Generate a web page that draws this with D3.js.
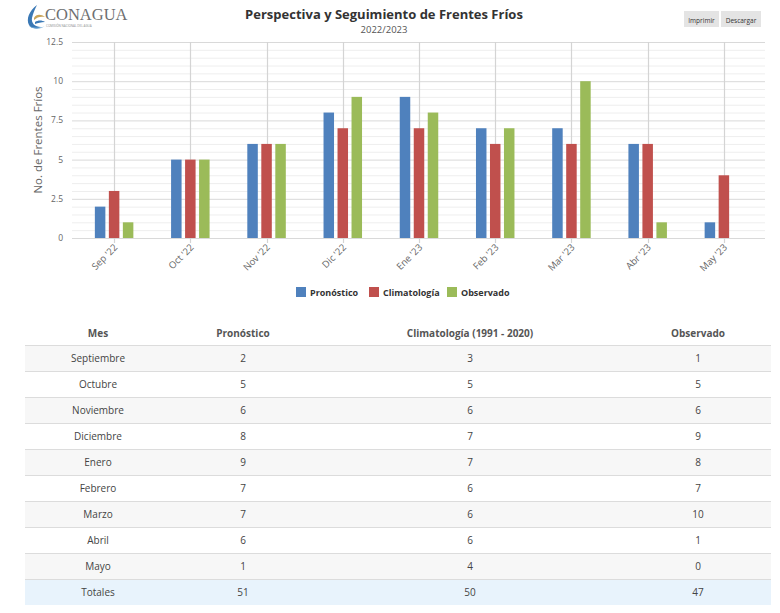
<!DOCTYPE html>
<html>
<head>
<meta charset="utf-8">
<script src="https://cdn.jsdelivr.net/npm/d3@7"></script>
<style>
  body { margin: 0; background: #fff; font-family: "Open Sans", sans-serif; }
  text { font-family: "Open Sans", sans-serif; }
</style>
</head>
<body>
<div id="chart"></div>
<script>
const width = 780
const height = 613
const margins = ({ top: 42, right: 15, bottom: 375, left: 72 })

// data
const months = ["Sep '22", "Oct '22", "Nov '22", "Dic '22", "Ene '23", "Feb '23", "Mar '23", "Abr '23", "May '23"]
const monthNames = ["Septiembre", "Octubre", "Noviembre", "Diciembre", "Enero", "Febrero", "Marzo", "Abril", "Mayo"]
const pronostico = [2, 5, 6, 8, 9, 7, 7, 6, 1]
const climatologia = [3, 5, 6, 7, 7, 6, 6, 6, 4]
const observado = [1, 5, 6, 9, 8, 7, 10, 1, 0]
const seriesNames = ["Pronóstico", "Climatología", "Observado"]
const tableHeaders = ["Mes", "Pronóstico", "Climatología (1991 - 2020)", "Observado"]
const yTicks = [0, 2.5, 5, 7.5, 10, 12.5]
const colors = ["#4f81bd", "#c0504d", "#9bbb59"]

const series = [pronostico, climatologia, observado]

const svg = d3.select("#chart")
    .append("svg")
    .attr("width", width)
    .attr("height", height)

// logo
const logo = svg.append("g").attr("transform", "translate(25,4)")
logo.append("path")
    .attr("d", "M12,1 C4,7 1,15 4,21 C6,25 12,25 16,23 C10,23 6,19 7,14 C8,9 10,5 12,1 Z")
    .attr("fill", "#3a78b5")
logo.append("path")
    .attr("d", "M4,22 C9,26 16,25 20,22 C16,24 10,24 4,22 Z")
    .attr("fill", "#6aa6d6")
logo.append("path")
    .attr("d", "M9,14 C11,10 16,10 20,13 C16,12 12,13 9,16 Z")
    .attr("fill", "#c9a45a")
logo.append("path")
    .attr("d", "M10,18 C13,16 17,16 20,18 C16,18 13,19 10,20 Z")
    .attr("fill", "#3a78b5")
svg.append("text")
    .text("CONAGUA")
    .attr("x", 45)
    .attr("y", 20)
    .style("font-family", "'Liberation Serif', serif")
    .attr("font-size", 16.5)
    .attr("fill", "#6e6f71")
svg.append("text")
    .text("COMISIÓN NACIONAL DEL AGUA")
    .attr("x", 46)
    .attr("y", 27)
    .attr("font-size", 3)
    .attr("fill", "#8a8b8d")

// title
svg.append("text")
    .text("Perspectiva y Seguimiento de Frentes Fríos")
    .attr("x", 384)
    .attr("y", 19)
    .attr("text-anchor", "middle")
    .attr("font-size", 13)
    .attr("font-weight", "bold")
    .attr("fill", "#333")
svg.append("text")
    .text("2022/2023")
    .attr("x", 384)
    .attr("y", 33)
    .attr("text-anchor", "middle")
    .attr("font-size", 9.5)
    .attr("fill", "#555")

// buttons
const buttons = [{ label: "Imprimir", x: 684, w: 35 }, { label: "Descargar", x: 721, w: 40 }]
buttons.forEach(b => {
    svg.append("rect")
        .attr("x", b.x).attr("y", 11).attr("width", b.w).attr("height", 16)
        .attr("fill", "#e4e4e4")
    svg.append("text")
        .text(b.label)
        .attr("x", b.x + b.w / 2).attr("y", 22.5)
        .attr("text-anchor", "middle")
        .attr("font-size", 6.5)
        .attr("fill", "#333")
})

// scales
const plotBottom = 238
const plotRight = width - margins.right
const x = d3.scaleBand()
    .domain(months)
    .range([76, 762])
const y = d3.scaleLinear()
    .domain([0, 12.5])
    .range([plotBottom, margins.top])

// minor gridlines
svg.append("g")
    .selectAll("line")
    .data(d3.range(0, 12.5, 0.5).filter(v => !yTicks.includes(v)))
    .join("line")
    .attr("x1", margins.left)
    .attr("x2", plotRight)
    .attr("y1", d => y(d) + 0.5)
    .attr("y2", d => y(d) + 0.5)
    .attr("stroke", "#eeeeee")

// major gridlines
svg.append("g")
    .selectAll("line")
    .data(yTicks)
    .join("line")
    .attr("x1", margins.left)
    .attr("x2", plotRight)
    .attr("y1", d => y(d) + 0.5)
    .attr("y2", d => y(d) + 0.5)
    .attr("stroke", "#d9d9d9")

// vertical gridlines
svg.append("g")
    .selectAll("line")
    .data(months)
    .join("line")
    .attr("x1", d => Math.round(x(d) + x.bandwidth() / 2) + 0.5)
    .attr("x2", d => Math.round(x(d) + x.bandwidth() / 2) + 0.5)
    .attr("y1", margins.top)
    .attr("y2", plotBottom + 5)
    .attr("stroke", "#d4d4d4")
    .attr("stroke-width", 1.2)

// y axis labels
svg.append("g")
    .selectAll("text")
    .data(yTicks)
    .join("text")
    .text(d => d)
    .attr("x", 63)
    .attr("y", d => y(d) + 3)
    .attr("text-anchor", "end")
    .attr("font-size", 8.5)
    .attr("fill", "#666")

svg.append("text")
    .text("No. de Frentes Fríos")
    .attr("transform", "rotate(-90)")
    .attr("x", -140)
    .attr("y", 42)
    .attr("text-anchor", "middle")
    .attr("font-size", 11.5)
    .attr("fill", "#666")

// bars
const barStep = 14
const barWidth = 10.5
series.forEach((values, i) => {
    svg.append("g")
        .selectAll("rect")
        .data(values)
        .join("rect")
        .attr("x", (d, j) => x(months[j]) + x.bandwidth() / 2 + (i - 1) * barStep - barWidth / 2)
        .attr("y", d => y(d))
        .attr("width", barWidth)
        .attr("height", d => plotBottom - y(d))
        .attr("fill", colors[i])
})

// x labels
svg.append("g")
    .selectAll("text")
    .data(months)
    .join("text")
    .text(d => d)
    .attr("transform", d => `translate(${x(d) + x.bandwidth() / 2 + 4},${plotBottom + 10}) rotate(-45)`)
    .attr("text-anchor", "end")
    .attr("font-size", 9.5)
    .attr("fill", "#666")

// legend
const legendX = [296, 369, 447]
seriesNames.forEach((name, i) => {
    svg.append("rect")
        .attr("x", legendX[i])
        .attr("y", 287)
        .attr("width", 10)
        .attr("height", 10)
        .attr("fill", colors[i])
    svg.append("text")
        .text(name)
        .attr("x", legendX[i] + 14)
        .attr("y", 295.5)
        .attr("font-size", 9)
        .attr("font-weight", "bold")
        .attr("fill", "#333")
})

// table
const tableLeft = 25
const tableRight = 771
const colX = [98, 243, 470, 698]
const rowH = 26
const firstRowTop = 345
const rows = monthNames.map((m, i) => [m, pronostico[i], climatologia[i], observado[i]])
rows.push(["Totales", d3.sum(pronostico), d3.sum(climatologia), d3.sum(observado)])

const table = svg.append("g")
table.selectAll("text.head")
    .data(tableHeaders)
    .join("text")
    .attr("class", "head")
    .text(d => d)
    .attr("x", (d, i) => colX[i])
    .attr("y", 337)
    .attr("text-anchor", "middle")
    .attr("font-size", 10)
    .attr("font-weight", "bold")
    .attr("fill", "#555")

rows.forEach((row, r) => {
    const top = firstRowTop + r * rowH
    const isTotal = r === rows.length - 1
    table.append("rect")
        .attr("x", tableLeft)
        .attr("y", top)
        .attr("width", tableRight - tableLeft)
        .attr("height", rowH)
        .attr("fill", isTotal ? "#e8f3fc" : (r % 2 === 0 ? "#f7f7f7" : "#fff"))
    table.append("line")
        .attr("x1", tableLeft).attr("x2", tableRight)
        .attr("y1", top + 0.5).attr("y2", top + 0.5)
        .attr("stroke", "#dcdcdc")
    table.selectAll(null)
        .data(row)
        .join("text")
        .text(d => d)
        .attr("x", (d, i) => colX[i])
        .attr("y", top + 17)
        .attr("text-anchor", "middle")
        .attr("font-size", 10)
        .attr("fill", "#444")
})
</script>
</body>
</html>
